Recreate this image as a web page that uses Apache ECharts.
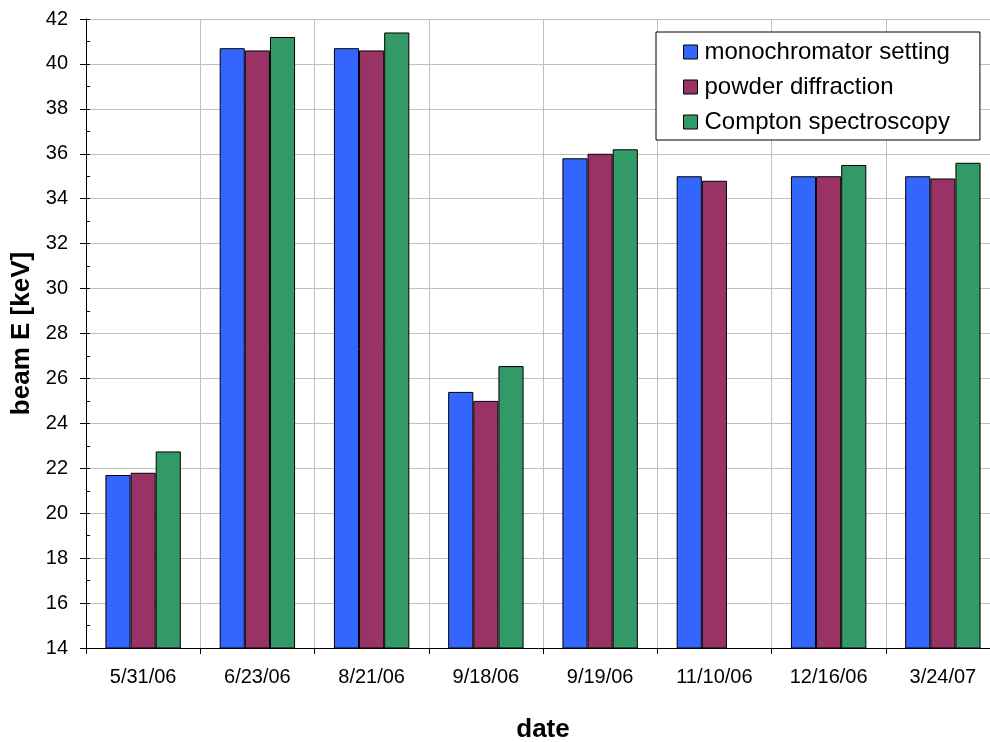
<!DOCTYPE html>
<html>
<head>
<meta charset="utf-8">
<script src="https://cdn.jsdelivr.net/npm/echarts@6/dist/echarts.min.js"></script>
<style>
  html, body { margin: 0; padding: 0; background: #fff; }
  #chart { width: 990px; height: 742px; }
</style>
</head>
<body>
<div id="chart"></div>
<script>
// Beam energy per measurement date, three methods
const dates = ['5/31/06', '6/23/06', '8/21/06', '9/18/06', '9/19/06', '11/10/06', '12/16/06', '3/24/07'];
const monochromator = [21.7, 40.7, 40.7, 25.4, 35.8, 35.0, 35.0, 35.0];
const powder = [21.8, 40.6, 40.6, 25.0, 36.0, 34.8, 35.0, 34.9];
const compton = [22.75, 41.2, 41.4, 26.55, 36.2, null, 35.5, 35.6];

const seriesNames = ['monochromator setting', 'powder diffraction', 'Compton spectroscopy'];
const seriesColors = ['#3366FF', '#993366', '#339966'];
const seriesData = [monochromator, powder, compton];

const font = 'Liberation Sans, Arial, sans-serif';

const chart = echarts.init(document.getElementById('chart'));

chart.setOption({
  animation: false,
  backgroundColor: '#fff',
  textStyle: { fontFamily: font, color: '#000' },
  grid: { left: 86, top: 19, bottom: 94, right: -10, containLabel: false, outerBoundsMode: 'none' },
  legend: {
    orient: 'vertical',
    left: 656,
    top: 32,
    padding: [8, 30, 6, 27],
    itemGap: 11,
    itemWidth: 14,
    itemHeight: 14,
    icon: 'rect',
    backgroundColor: '#fff',
    borderColor: '#000',
    borderWidth: 1,
    borderRadius: 0,
    itemStyle: { borderColor: '#000', borderWidth: 1 },
    textStyle: { fontFamily: font, fontSize: 24, color: '#000', padding: [0, 0, 0, 2] },
    data: seriesNames
  },
  xAxis: {
    type: 'category',
    data: dates,
    name: 'date',
    nameLocation: 'middle',
    nameGap: 69,
    nameTextStyle: { fontFamily: font, fontSize: 26, fontWeight: 'bold', color: '#000' },
    axisLine: { onZero: false, lineStyle: { color: '#000', width: 1 } },
    axisTick: { show: true, length: 6, alignWithLabel: false, lineStyle: { color: '#000' } },
    axisLabel: { fontFamily: font, fontSize: 20, color: '#000', margin: 19 },
    splitLine: { show: true, lineStyle: { color: '#C0C0C0', width: 1 } }
  },
  yAxis: [
    {
      type: 'value',
      min: 14,
      max: 42,
      interval: 2,
      name: 'beam E [keV]',
      nameLocation: 'middle',
      nameGap: 48,
      nameTextStyle: { fontFamily: font, fontSize: 26, fontWeight: 'bold', color: '#000' },
      axisLine: { show: true, lineStyle: { color: '#000', width: 1 } },
      axisTick: { show: true, length: 6, lineStyle: { color: '#000' } },
      axisLabel: { fontFamily: font, fontSize: 20, color: '#000', margin: 18 },
      splitLine: { show: true, lineStyle: { color: '#C0C0C0', width: 1 } }
    },
    {
      // inner tick marks at every unit
      type: 'value',
      position: 'left',
      min: 14,
      max: 42,
      interval: 1,
      axisLine: { show: false },
      axisTick: { show: true, inside: true, length: 4, lineStyle: { color: '#000' } },
      axisLabel: { show: false },
      splitLine: { show: false }
    }
  ],
  series: seriesNames.map((name, i) => ({
    name: name,
    type: 'bar',
    yAxisIndex: 0,
    data: seriesData[i],
    barGap: '0%',
    barCategoryGap: '34%',
    itemStyle: { color: seriesColors[i], borderColor: '#000', borderWidth: 1 }
  }))
});
</script>
</body>
</html>
